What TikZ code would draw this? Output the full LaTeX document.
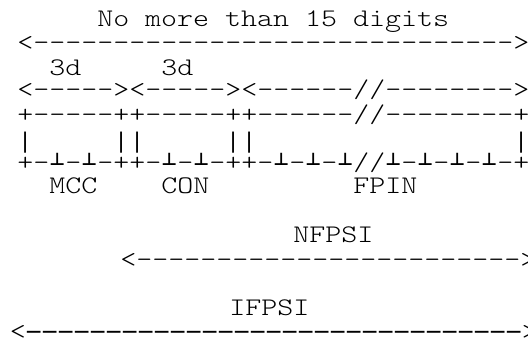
\documentclass[tikz,border=0pt]{standalone}
\usepackage{fontspec}
\setmonofont{lmmonolt10-regular.otf}[FakeStretch=1.203]
\newfontfamily\tackfont{DejaVu Sans}
\newfontfamily\barfont{Liberation Mono}
\usepackage{tikz}

% one up tack, one character cell wide
\newcommand{\tk}{\makebox[\fontcharwd\font`\-]{\raisebox{3.3pt}{\tackfont\bfseries\fontsize{13}{13}\selectfont ⊥}}}
% one heavy dash, one character cell wide
\newcommand{\hd}{\makebox[\fontcharwd\font`\-]{\raisebox{1.6pt}{\tackfont\bfseries\fontsize{11.5}{11.5}\selectfont —}}}
% one tall bar, one character cell wide
\newcommand{\vb}{\makebox[\fontcharwd\font`\-]{\barfont\fontsize{17}{17}\selectfont|}}

\tikzset{
  ascii/.style={anchor=base west,inner sep=0pt,font=\ttfamily\fontsize{19}{24}\selectfont},
}

\begin{document}
\begin{tikzpicture}[x=0.75pt,y=-0.75pt]
\useasboundingbox (0,0) rectangle (528,340); % frame of the picture

% total length
\node[ascii] (limit) at (97,26) {No more than 15 digits};
\node[ascii] (limitarrow) at (17,50) {<------------------------------>};

% field lengths
\node[ascii] (mccdigits) at (49,75) {3d};
\node[ascii] (condigits) at (161,75) {3d};
\node[ascii] (fieldarrows) at (17,97) {<-----><-----><------//-------->};

% the number
\node[ascii] (boxtop) at (17,122) {+-----++-----++------//--------+};
\node[ascii] (boxsides) at (17,148) {\vb~~~~~\vb\vb~~~~~\vb\vb~~~~~~~~~~~~~~~~\vb};
\node[ascii] (boxbottom) at (17,170) {+-\tk-\tk-++-\tk-\tk-++-\tk-\tk-\tk//\tk-\tk-\tk-\tk-+};

% field names
\node[ascii] (mcc) at (49,193) {MCC};
\node[ascii] (con) at (161,193) {CON};
\node[ascii] (fpin) at (353,193) {FPIN};

% national part
\node[ascii] (nfpsi) at (293,242) {NFPSI};
\node[ascii] (nfpsiarrow) at (120,267) {<------------------------>};

% international part
\node[ascii] (ifpsi) at (229,315) {IFPSI};
\node[ascii] (ifpsiarrow) at (9.5,339) {<\foreach \i in {1,...,31}{\hd}>};
\end{tikzpicture}
\end{document}
